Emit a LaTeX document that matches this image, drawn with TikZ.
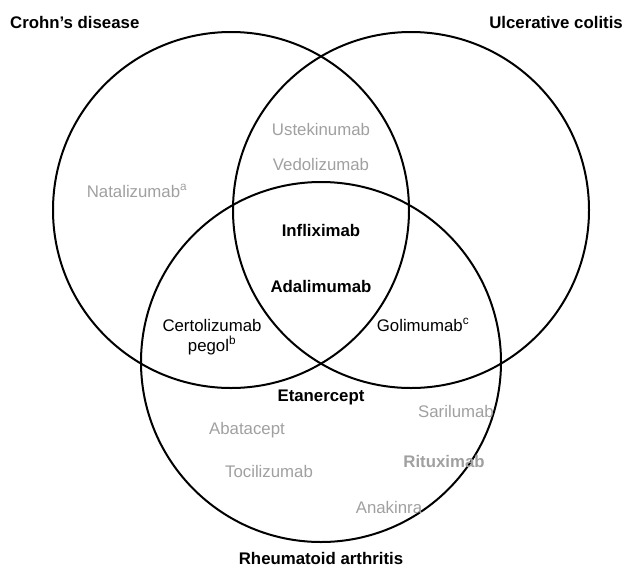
\documentclass[tikz,border=0pt]{standalone}
\usepackage{fontspec}
\setmainfont{Liberation Sans}
\usepackage{tikz}
\usetikzlibrary{positioning}
\definecolor{drgray}{RGB}{160,160,160}

\begin{document}
\begin{tikzpicture}
    [x=1pt, y=-1pt,
    disease/.style = {draw, line width=2pt},
    every node/.style = {font=\fontsize{16.8}{19.5}\selectfont, align=center, inner sep=1pt},
    title/.style = {font=\fontsize{16.8}{19.5}\selectfont\bfseries},
    shared/.style = {font=\fontsize{16.8}{19.5}\selectfont\bfseries},
    other/.style = {text=drgray}]

    \useasboundingbox (0,0) rectangle (632,571);

    % the three circles
    \draw[disease] (231,210) circle [radius=178pt];
    \draw[disease] (411,210) circle [radius=178pt];
    \draw[disease] (321,362) circle [radius=180pt];

    % headings
    \node[title, anchor=west] (cd) at (9,22) {Crohn’s disease};
    \node[title, anchor=east] (uc) at (624,22) {Ulcerative colitis};
    \node[title] (ra) at (321,558) {Rheumatoid arthritis};

    % drugs
    \node[other] (nata) at (137,191) {Natalizumab\textsuperscript{a}};
    \node[other] (uste) at (321,129) {Ustekinumab};
    \node[other] (vedo) at (321,164) {Vedolizumab};
    \node[shared] (infl) at (321,230) {Infliximab};
    \node[shared] (adal) at (321,286) {Adalimumab};
    \node (cert) at (212,337) {Certolizumab\\pegol\textsuperscript{b}};
    \node (goli) at (423,325) {Golimumab\textsuperscript{c}};
    \node[shared] (etan) at (321,397) {Etanercept};
    \node[other] (sari) at (456,411) {Sarilumab};
    \node[other] (abat) at (247,430) {Abatacept};
    \node[other, shared] (ritu) at (444,461) {Rituximab};
    \node[other] (toci) at (269,471) {Tocilizumab};
    \node[other] (anak) at (389,507) {Anakinra};
\end{tikzpicture}
\end{document}
